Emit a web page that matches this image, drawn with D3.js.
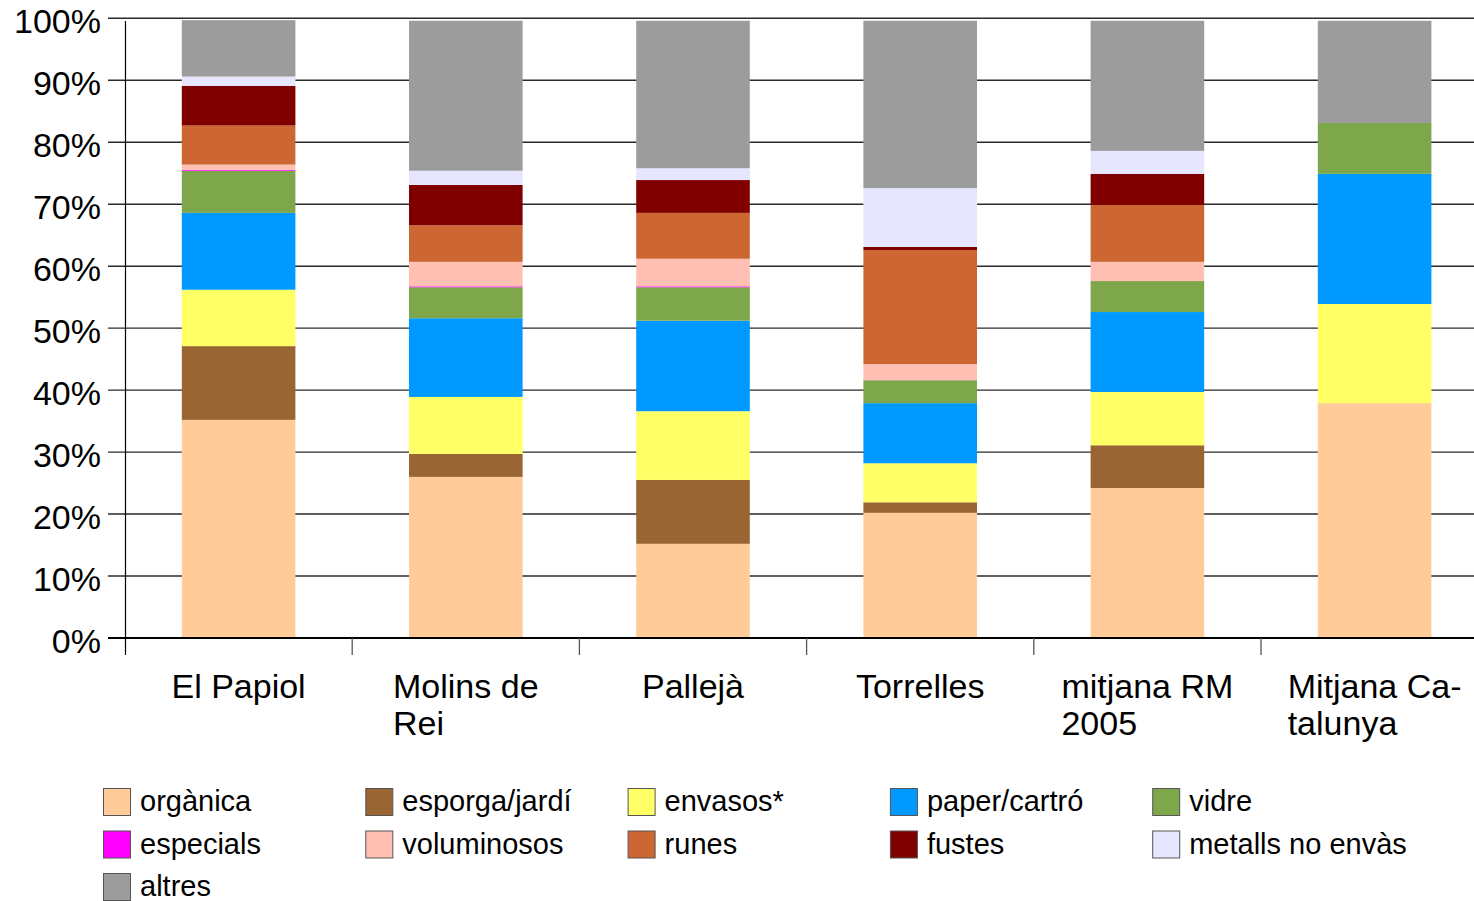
<!DOCTYPE html>
<html><head><meta charset="utf-8">
<script src="https://cdn.jsdelivr.net/npm/d3@7"></script>
<style>body{margin:0;background:#fff}svg{display:block;font-family:"Liberation Sans",Arial,sans-serif}</style>
</head><body><svg id="c" width="1474" height="901"></svg>
<script>
const categories = [["El Papiol"],["Molins de","Rei"],["Pallejà"],["Torrelles"],["mitjana RM","2005"],["Mitjana Ca-","talunya"]];
const seriesNames = ["orgànica","esporga/jardí","envasos*","paper/cartró","vidre","especials","voluminosos","runes","fustes","metalls no envàs","altres"];
const seriesColors = ["#ffcc99","#996633","#ffff66","#0099ff","#7ea64a","#ff00ff","#ffbfb2","#cc6633","#800000","#e6e6ff","#9c9c9c"];
const organica   = [35.2, 26.0, 15.2, 20.2, 24.2, 37.9];
const esporga    = [11.9,  3.7, 10.3,  1.7,  6.9,  0.0];
const envasos    = [ 9.1,  9.2, 11.1,  6.3,  8.6, 16.0];
const paper      = [12.4, 12.7, 14.6,  9.7, 12.9, 21.0];
const vidre      = [ 6.8,  5.0,  5.4,  3.7,  5.0,  8.2];
const especials  = [ 0.15, 0.15, 0.15, 0.0,  0.0,  0.0];
const voluminosos= [ 0.85, 3.95, 4.45, 2.6,  3.1,  0.0];
const runes      = [ 6.3,  5.9,  7.4, 18.4,  9.2,  0.0];
const fustes     = [ 6.4,  6.5,  5.3,  0.5,  5.0,  0.0];
const metalls    = [ 1.5,  2.3,  1.9,  9.5,  3.7,  0.0];
const altres     = [ 9.1, 24.2, 23.8, 27.0, 21.0, 16.5];
const yTicks = [0,10,20,30,40,50,60,70,80,90,100];

const seriesValues = [organica,esporga,envasos,paper,vidre,especials,voluminosos,runes,fustes,metalls,altres];
const svg = d3.select("#c");
const x0 = 125, yTop = 18.3, yBot = 638;
const x = d3.scaleBand().domain(d3.range(categories.length)).range([x0, 1488.2]).paddingInner(0.5).paddingOuter(0.25);
const y = d3.scaleLinear().domain([0,100]).range([yBot, yTop]);

// gridlines
svg.append("g").selectAll("line").data(yTicks).join("line")
  .attr("x1",108).attr("x2",1474).attr("y1",d=>y(d)).attr("y2",d=>y(d))
  .attr("stroke",d=>d===0?"#000":"#2a2a2a").attr("stroke-width",d=>d===0?2:1.4);

// y labels
svg.append("g").selectAll("text").data(yTicks).join("text")
  .attr("x",101).attr("y",d=>y(d)+3).attr("text-anchor","end").attr("dominant-baseline","central")
  .attr("font-size",34).attr("fill","#000").text(d=>d+"%");

// stacked bars
const table = categories.map((c,i)=>{const o={i}; seriesNames.forEach((s,k)=>o[s]=seriesValues[k][i]); return o;});
const stack = d3.stack().keys(seriesNames)(table);
svg.append("g").selectAll("g").data(stack).join("g").attr("fill",(d,k)=>seriesColors[k])
  .selectAll("rect").data(d=>d).join("rect")
  .attr("x",d=>x(d.data.i)).attr("width",x.bandwidth())
  .attr("y",d=>y(d[1])).attr("height",d=>Math.max(0,y(d[0])-y(d[1])));

// redraw baseline on top
svg.append("line").attr("x1",108).attr("x2",1474).attr("y1",yBot).attr("y2",yBot).attr("stroke","#000").attr("stroke-width",2);
// y axis line
svg.append("line").attr("x1",x0+0.5).attr("x2",x0+0.5).attr("y1",21).attr("y2",655).attr("stroke","#000").attr("stroke-width",1.2);
// category ticks
const step = x.step();
svg.append("g").selectAll("line").data(d3.range(1,categories.length)).join("line")
  .attr("x1",d=>x0+d*step).attr("x2",d=>x0+d*step).attr("y1",yBot).attr("y2",655)
  .attr("stroke","#555").attr("stroke-width",1.3);

// category labels
const lab = svg.append("g").selectAll("text").data(categories).join("text")
  .attr("font-size",34).attr("fill","#000");
lab.each(function(lines,i){
  const t = d3.select(this);
  lines.forEach((l,j)=>t.append("tspan").attr("y",698+j*37).text(l));
  const w = d3.max(t.selectAll("tspan").nodes(), n=>n.getComputedTextLength());
  const left = x(i)+x.bandwidth()/2 - w/2;
  t.selectAll("tspan").attr("x",left);
});

// legend
const lg = svg.append("g").selectAll("g").data(seriesNames).join("g")
  .attr("transform",(d,k)=>`translate(${103+(k%5)*262.3},${788+Math.floor(k/5)*42.5})`);
lg.append("rect").attr("x",0.5).attr("y",0.5).attr("width",27).attr("height",27)
  .attr("fill",(d,k)=>seriesColors[k]).attr("stroke","#555").attr("stroke-width",1);
lg.append("text").attr("x",37).attr("y",13).attr("dominant-baseline","central")
  .attr("font-size",29).attr("fill","#000").text(d=>d);
</script></body></html>
